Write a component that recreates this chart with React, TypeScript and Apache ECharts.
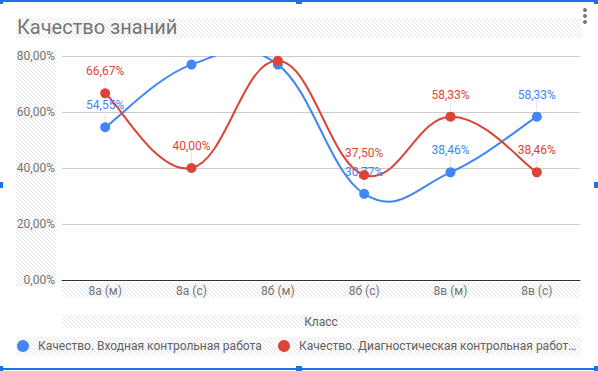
import React, { useEffect, useRef } from "react";
import * as echarts from "echarts";

const TITLE = "Качество знаний";
const X_TITLE = "Класс";
const CATEGORIES = ["8а (м)", "8а (с)", "8б (м)", "8б (с)", "8в (м)", "8в (с)"];
const SERIES_NAMES = [
  "Качество. Входная контрольная работа",
  "Качество. Диагностическая контрольная работа",
];
const ENTRY_VALUES = [54.55, 76.92, 76.92, 30.77, 38.46, 58.33];
const DIAG_VALUES = [66.67, 40.0, 78.26, 37.5, 58.33, 38.46];
const Y_TICKS = [0, 20, 40, 60, 80];
const COLORS = ["#4285f4", "#db4437"];

const fmt = (v: number) => v.toFixed(2).replace(".", ",") + "%";

const hatchSvg =
  "<svg xmlns='http://www.w3.org/2000/svg' width='4' height='4'>" +
  "<path d='M-1,-1 L5,5 M-1,3 L1,5 M3,-1 L5,1' stroke='#e3e3e3' stroke-width='1'/></svg>";
const hatchUrl = "data:image/svg+xml;charset=utf-8," + encodeURIComponent(hatchSvg);

function truncate(text: string, maxW: number, font: string): string {
  let ctx: CanvasRenderingContext2D | null = null;
  try {
    ctx = document.createElement("canvas").getContext("2d");
  } catch (e) {
    ctx = null;
  }
  const measure = (s: string) => {
    if (ctx) {
      ctx.font = font;
      return ctx.measureText(s).width;
    }
    return s.length * 6.2;
  };
  if (measure(text) <= maxW) return text;
  let s = text;
  while (s.length > 1 && measure(s) > maxW) s = s.slice(0, -1);
  return s + "…";
}

export default function App() {
  const ref = useRef<HTMLDivElement>(null);
  useEffect(() => {
    document.body.style.margin = "0";
    const chart = echarts.init(ref.current!, null, { renderer: "svg" });
    const hatchFill: any = { image: hatchUrl, repeat: "repeat", imageWidth: 4, imageHeight: 4 };
    const hatch = (x: number, y: number, w: number, h: number) => ({
      type: "rect",
      z: -10,
      silent: true,
      shape: { x, y, width: w, height: h },
      style: { fill: hatchFill },
    });
    const blue = "#1a73e8";
    const handle = (cx: number, cy: number) => ({
      type: "rect",
      z: 100,
      shape: { x: cx - 3, y: cy - 3, width: 6, height: 6 },
      style: { fill: blue },
    });
    const LABEL_MAX = 72;
    const makeData = (vals: number[]) =>
      vals.map((v) => ({
        value: v,
        label: { show: v < LABEL_MAX },
      }));
    const font = "Roboto, 'Noto Sans', sans-serif";
    const K = 0.2;
    const curveSeries = (vals: number[], color: string, z: number) => ({
      type: "custom",
      clip: true,
      z,
      silent: true,
      data: vals.map((v, i) => [i, v]),
      encode: { x: 0, y: 1 },
      renderItem: (params: any, api: any) => {
        const i = params.dataIndex;
        const n = vals.length;
        const c = (j: number) => {
          const k = Math.max(0, Math.min(n - 1, j));
          return api.coord([k, vals[k]]);
        };
        const p1 = c(i);
        const cs = params.coordSys;
        const children: any[] = [];
        if (vals[i] < LABEL_MAX) {
          children.push({
            type: "line",
            shape: { x1: p1[0], y1: p1[1] - 17, x2: p1[0], y2: p1[1] - 4 },
            style: { stroke: "#e6e6e6", lineWidth: 1 },
          });
        }
        if (i < n - 1) {
          const p0 = c(i - 1), p2 = c(i + 1), p3 = c(i + 2);
          const cp1 = [p1[0] + (p2[0] - p0[0]) * K, p1[1] + (p2[1] - p0[1]) * K];
          const cp2 = [p2[0] - (p3[0] - p1[0]) * K, p2[1] - (p3[1] - p1[1]) * K];
          children.push({
            type: "path",
            shape: {
              pathData: `M${p1[0]},${p1[1]} C${cp1[0]},${cp1[1]} ${cp2[0]},${cp2[1]} ${p2[0]},${p2[1]}`,
            },
            clipPath: { type: "rect", shape: { x: cs.x, y: cs.y, width: cs.width, height: cs.height } },
            style: { fill: "none", stroke: color, lineWidth: 2 },
          });
        }
        return { type: "group", children };
      },
    });
    const legendX = [17, 278];
    const legendFontStr = "12px Roboto";
    chart.setOption({
      animation: false,
      textStyle: { fontFamily: font },
      title: {
        text: TITLE,
        left: 17,
        top: 17,
        padding: 0,
        textStyle: { fontSize: 20, fontWeight: "normal", color: "#757575", fontFamily: font },
      },
      grid: { left: 62, right: 18, top: 56, bottom: 91 },
      xAxis: {
        type: "category",
        data: CATEGORIES,
        boundaryGap: true,
        axisLine: { lineStyle: { color: "#333", width: 1 } },
        axisTick: { show: false },
        axisLabel: { color: "#757575", fontSize: 12, margin: 5, fontFamily: font },
        name: X_TITLE,
        nameLocation: "middle",
        nameGap: 36,
        nameTextStyle: { color: "#5f5f5f", fontSize: 12, fontFamily: font },
      },
      yAxis: {
        type: "value",
        min: Y_TICKS[0],
        max: Y_TICKS[Y_TICKS.length - 1],
        interval: Y_TICKS[1] - Y_TICKS[0],
        axisLine: { show: false },
        axisTick: { show: false },
        splitLine: { lineStyle: { color: "#cccccc", width: 1 } },
        axisLabel: { color: "#757575", fontSize: 12, margin: 7, formatter: (v: number) => fmt(v), fontFamily: font },
      },
      series: [
        curveSeries(ENTRY_VALUES, COLORS[0], 2),
        curveSeries(DIAG_VALUES, COLORS[1], 3),
        ...[ENTRY_VALUES, DIAG_VALUES].map((vals, i) => ({
          name: SERIES_NAMES[i],
          type: "line",
          data: makeData(vals),
          clip: true,
          symbol: "circle",
          symbolSize: 10,
          itemStyle: { color: COLORS[i] },
          lineStyle: { width: 0, opacity: 0 },
          label: {
            position: "top",
            distance: 11,
            color: COLORS[i],
            fontSize: 12,
            fontFamily: font,
            formatter: (p: any) => fmt(p.value),
          },
          z: 4 + i,
        })),
      ],
      graphic: [
        hatch(16, 18, 565, 20),
        hatch(16, 50, 40, 237),
        hatch(62, 283, 518, 15),
        hatch(62, 315, 518, 13),
        hatch(16, 337, 565, 18),
        ...SERIES_NAMES.flatMap((name, i) => [
          {
            type: "circle",
            z: 50,
            shape: { cx: legendX[i] + 6, cy: 346, r: 6 },
            style: { fill: COLORS[i] },
          },
          {
            type: "text",
            z: 50,
            x: legendX[i] + 21,
            y: 346,
            style: {
              text: truncate(name, 271, legendFontStr),
              fill: "#616161",
              fontSize: 12,
              fontFamily: font,
              verticalAlign: "middle",
            },
          },
        ]),
        { type: "circle", z: 100, shape: { cx: 585, cy: 10, r: 2 }, style: { fill: "#757575" } },
        { type: "circle", z: 100, shape: { cx: 585, cy: 16, r: 2 }, style: { fill: "#757575" } },
        { type: "circle", z: 100, shape: { cx: 585, cy: 22, r: 2 }, style: { fill: "#757575" } },
        { type: "rect", z: 100, shape: { x: 0, y: 0, width: 597, height: 2 }, style: { fill: blue } },
        { type: "rect", z: 100, shape: { x: 0, y: 368, width: 597, height: 2 }, style: { fill: blue } },
        handle(0, 1),
        handle(299, 1),
        handle(597, 1),
        handle(0, 185),
        handle(597, 185),
        handle(0, 369),
        handle(299, 369),
        handle(597, 369),
      ],
    });
    return () => chart.dispose();
  }, []);
  return <div ref={ref} style={{ width: 598, height: 371 }} />;
}
